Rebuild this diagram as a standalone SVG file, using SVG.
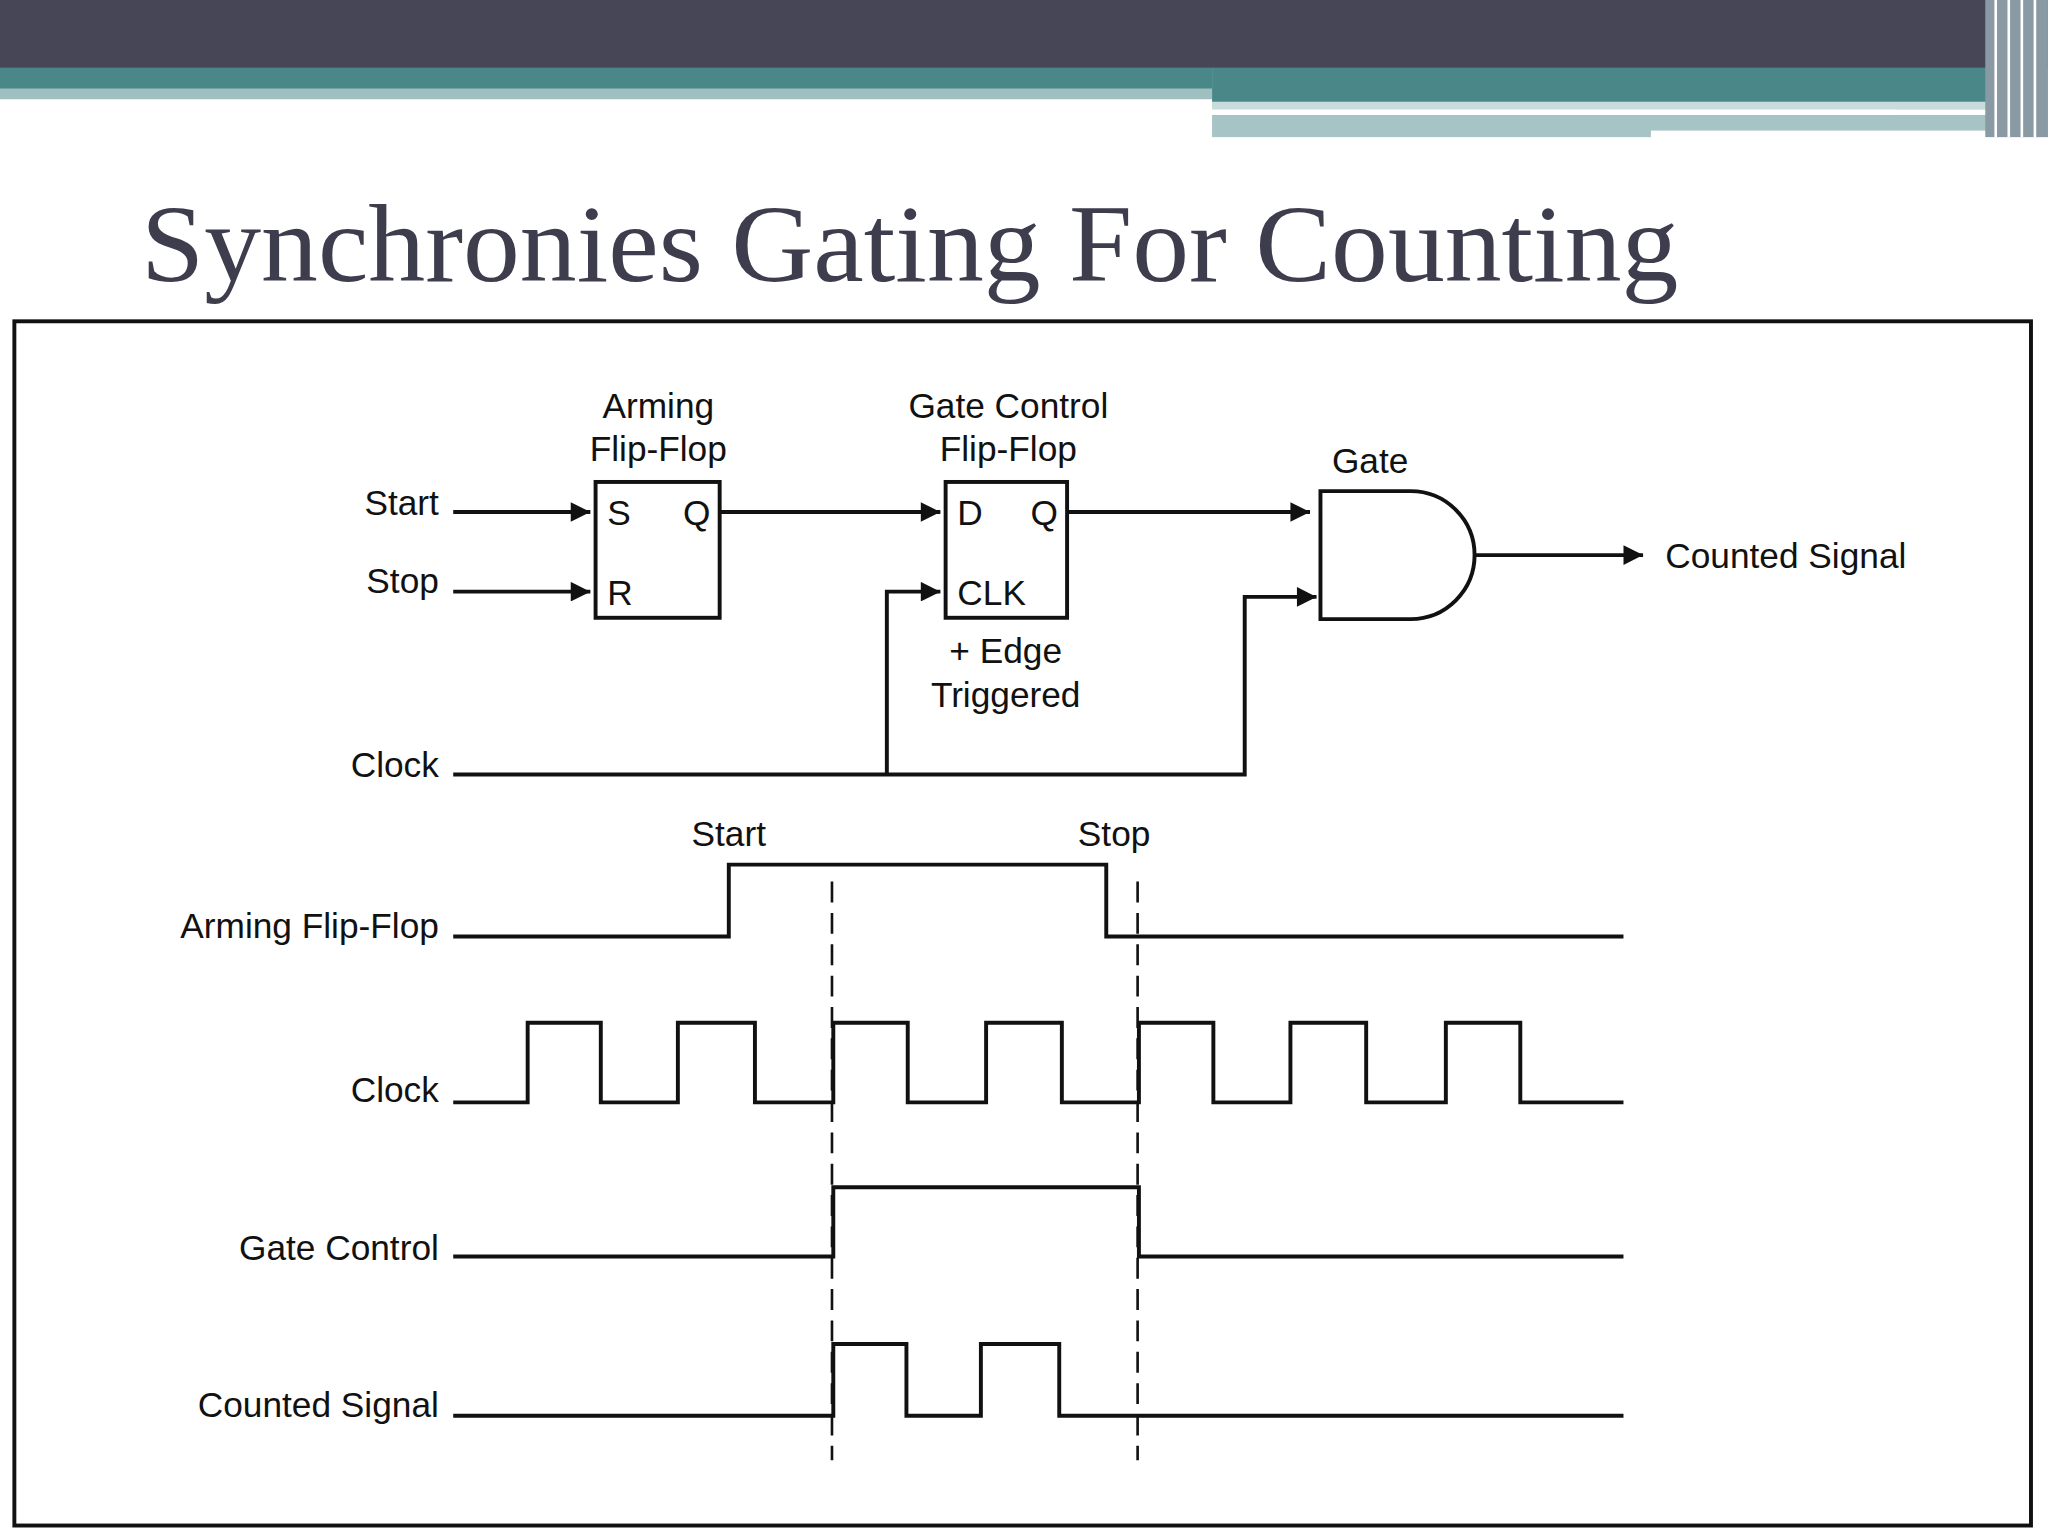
<svg xmlns="http://www.w3.org/2000/svg" width="2048" height="1536" viewBox="0 0 2048 1536">
<style>
.w{fill:none;stroke:#111;stroke-width:3}
.d{fill:none;stroke:#111;stroke-width:2;stroke-dasharray:16 8}
text{font-family:"Liberation Sans",Arial,sans-serif;font-size:27px;fill:#111}
.r{text-anchor:end}.c{text-anchor:middle}
</style>
<defs><marker id="a" viewBox="0 0 10 10" refX="10" refY="5" markerWidth="7" markerHeight="5" orient="auto" markerUnits="strokeWidth"><path d="M0 0L10 5L0 10Z" fill="#111"/></marker></defs>
<rect width="2048" height="1536" fill="#fff"/>
<g transform="scale(1.3061)">
<g id="banner">
<rect x="0" y="0" width="1568" height="52" fill="#464656"/>
<rect x="0" y="52" width="928" height="16" fill="#4a8789"/>
<rect x="0" y="68" width="928" height="8" fill="#9fbfc0"/>
<rect x="928" y="52" width="600" height="26" fill="#4a8789"/>
<rect x="928" y="78" width="600" height="6" fill="#c8dcdc"/>
<rect x="928" y="88" width="600" height="17" fill="#a6c4c5"/>
<rect x="928" y="84" width="524" height="4" fill="#fff"/>
<rect x="1264" y="100" width="264" height="6" fill="#fff"/>
<rect x="1520" y="0" width="48" height="105" fill="#8a9aa4"/>
<path d="M1528 0V105M1538 0V105M1548 0V105M1558 0V105" stroke="#fff" stroke-width="2"/>
</g>
<text x="108" y="215" textLength="1177" lengthAdjust="spacingAndGlyphs" style="font-family:'Liberation Serif',serif;font-size:84px;fill:#3d3d4d">Synchronies Gating For Counting</text>
<rect x="11" y="246" width="1544" height="922" fill="none" stroke="#111" stroke-width="3"/>
<g id="arming-ff"><rect class="w" x="456" y="369" width="95" height="104"/>
<text x="465" y="402">S</text><text x="523" y="402">Q</text><text x="465" y="463">R</text>
<text class="c" x="504" y="320">Arming</text><text class="c" x="504" y="353">Flip-Flop</text></g>
<g id="gate-ff"><rect class="w" x="724" y="369" width="93" height="104"/>
<text x="733" y="402">D</text><text x="789" y="402">Q</text><text x="733" y="463">CLK</text>
<text class="c" x="772" y="320">Gate Control</text><text class="c" x="772" y="353">Flip-Flop</text>
<text class="c" x="770" y="508">+ Edge</text><text class="c" x="770" y="541">Triggered</text></g>
<g id="gate"><path class="w" d="M1011 376H1080A49 49 0 0 1 1080 474H1011Z"/><text class="c" x="1049" y="362">Gate</text></g>
<g id="labels">
<text class="r" x="336" y="394">Start</text><text class="r" x="336" y="454">Stop</text><text class="r" x="336" y="595">Clock</text>
<text x="1275" y="435">Counted Signal</text>
<text class="r" x="336" y="718">Arming Flip-Flop</text><text class="r" x="336" y="844">Clock</text>
<text class="r" x="336" y="965">Gate Control</text><text class="r" x="336" y="1085">Counted Signal</text>
<text class="c" x="558" y="648">Start</text><text class="c" x="853" y="648">Stop</text>
</g>
<g id="connectors">
<path class="w" d="M347 392H452" marker-end="url(#a)"/>
<path class="w" d="M347 453H452" marker-end="url(#a)"/>
<path class="w" d="M551 392H720" marker-end="url(#a)"/>
<path class="w" d="M817 392H1003" marker-end="url(#a)"/>
<path class="w" d="M347 593H953V457H1008" marker-end="url(#a)"/>
<path class="w" d="M679 593V453H720" marker-end="url(#a)"/>
<path class="w" d="M1130 425H1258" marker-end="url(#a)"/>
</g>
<g id="waves">
<path class="w" d="M347 717H558V662H847V717H1243"/>
<path class="w" d="M347 844H404V783H460V844H519V783H578V844H638V783H695V844H755V783H813V844H872V783H929V844H988V783H1046V844H1107V783H1164V844H1243"/>
<path class="w" d="M347 962H638V909H872V962H1243"/>
<path class="w" d="M347 1084H638V1029H694V1084H751V1029H811V1084H1243"/>
<path class="d" d="M637 675V1118M871 675V1118"/>
</g>
</g>
</svg>
